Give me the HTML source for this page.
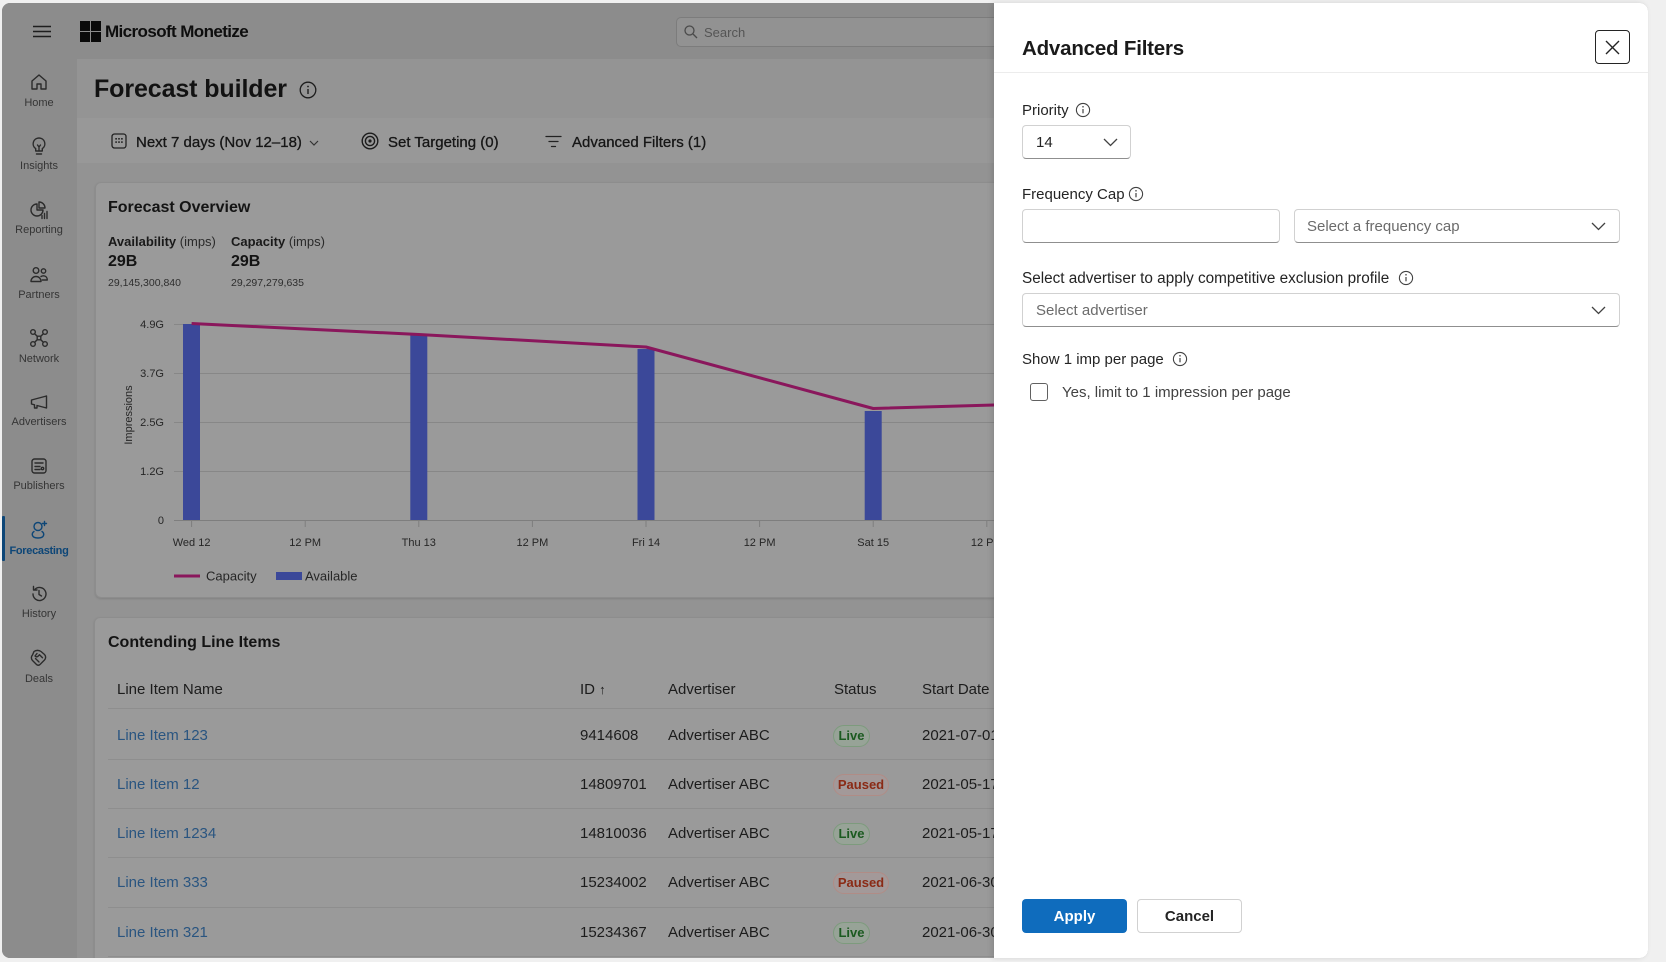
<!DOCTYPE html>
<html><head><meta charset="utf-8">
<style>
*{margin:0;padding:0;box-sizing:border-box}
body{width:1666px;height:962px;background:#f0f0f0;font-family:"Liberation Sans",Arial,sans-serif;overflow:hidden}
#root{position:relative;width:1666px;height:962px;overflow:hidden;background:#f0f0f0}
.a{position:absolute;white-space:nowrap}
.win{position:absolute;left:2px;top:3px;width:1646px;height:955px;border-radius:8px;overflow:hidden;background:#939393}
.sl{position:absolute;left:0;width:78px;text-align:center;font-size:11px;color:#353535;line-height:14px}
.ic{position:absolute;left:29px;width:20px;height:20px}
.ic *{fill:none;stroke:#2b2b2b;stroke-width:1.4;stroke-linecap:round;stroke-linejoin:round}
.th{font-size:15px;color:#1c1c1c;line-height:20px}
.td{font-size:15px;color:#1c1c1c;line-height:20px}
.lk{font-size:15px;color:#2a5580;line-height:20px}
.sep{position:absolute;left:108px;width:886px;height:1px;background:#8e8e8e}
.live{position:absolute;left:833px;width:37px;height:22px;border-radius:11px;border:1px solid #7d9b7d;background:#97a397;color:#1b5a20;font-size:13px;font-weight:bold;text-align:center;line-height:20px}
.paused{position:absolute;left:833px;width:56px;height:22px;border-radius:11px;border:1px solid #b08c86;background:#a39999;color:#8a2a15;font-size:13px;font-weight:bold;text-align:center;line-height:20px}
.pl{font-size:15px;color:#242424;line-height:20px}
.box{position:absolute;background:#fff;border:1px solid #d1d1d1;border-bottom:1px solid #8f8f8f;border-radius:4px}
.info{position:absolute;width:16px;height:16px}
</style></head><body><div id="root">
<div class="win">
  <div class="a" style="left:0;top:0;width:1000px;height:56px;background:#8c8c8c"></div>
  <div class="a" style="left:0;top:56px;width:75px;height:899px;background:#8c8c8c"></div>
  <div class="a" style="left:75px;top:56px;width:920px;height:59px;background:#949494"></div>
  <div class="a" style="left:75px;top:115px;width:920px;height:45px;background:#989898"></div>
  <div class="a" style="left:93px;top:179px;width:960px;height:416px;background:#9a9a9a;border:1px solid #8d8d8d;border-radius:6px;box-shadow:0 1px 2px rgba(0,0,0,.12)"></div>
  <div class="a" style="left:92px;top:614px;width:960px;height:345px;background:#9a9a9a;border:1px solid #8d8d8d;border-radius:6px 6px 0 0;box-shadow:0 1px 2px rgba(0,0,0,.12)"></div>
</div>

<svg class="a" style="left:33px;top:25px" width="18" height="13"><path d="M0 1.5h18M0 6.5h18M0 11.5h18" stroke="#1e1e1e" stroke-width="1.5"/></svg>
<svg class="a" style="left:80px;top:21px" width="21" height="21"><rect x="0" y="0" width="10" height="10" fill="#0a0a0a"/><rect x="11" y="0" width="10" height="10" fill="#0a0a0a"/><rect x="0" y="11" width="10" height="10" fill="#0a0a0a"/><rect x="11" y="11" width="10" height="10" fill="#0a0a0a"/></svg>
<div class="a" style="left:105px;top:22px;font-size:17px;font-weight:bold;letter-spacing:-0.6px;color:#0e0e0e;line-height:20px">Microsoft Monetize</div>
<div class="a" style="left:676px;top:17px;width:318px;height:30px;border:1px solid #7c7c7c;border-right:none;border-radius:5px 0 0 5px;background:#929292"></div>
<svg class="a" style="left:684px;top:25px" width="14" height="14"><circle cx="5.5" cy="5.5" r="4.5" fill="none" stroke="#4a4a4a" stroke-width="1.3"/><path d="M9 9l4 4" stroke="#4a4a4a" stroke-width="1.3"/></svg>
<div class="a" style="left:704px;top:24px;font-size:13px;color:#555;line-height:18px">Search</div>

<svg class="ic" style="top:72px" viewBox="0 0 20 20"><path d="M3 9L10 3l7 6v8h-5v-5H8v5H3z"/></svg>
<div class="sl" style="top:96px">Home</div>
<svg class="ic" style="top:136px" viewBox="0 0 20 20"><path d="M10 2a5.8 5.8 0 0 0-3.3 10.6V15h6.6v-2.4A5.8 5.8 0 0 0 10 2z"/><path d="M7.5 18h5M8.5 9l1.5 2 1.5-2M10 11v4"/></svg>
<div class="sl" style="top:159px">Insights</div>
<svg class="ic" style="top:200px" viewBox="0 0 20 20"><path d="M8 4a6 6 0 1 0 6 6H8z"/><path d="M10 2a6 6 0 0 1 6 6h-6z"/><path d="M13 18.5v-3M15.5 18.5v-5M18 18.5v-7" stroke-width="1.8"/></svg>
<div class="sl" style="top:223px">Reporting</div>
<svg class="ic" style="top:265px" viewBox="0 0 20 20"><circle cx="7" cy="5.5" r="2.8"/><circle cx="14.5" cy="6" r="2.2"/><path d="M2 16.5c0-3 2.3-5 5-5s5 2 5 5z"/><path d="M12 11.5c.8-.5 1.6-.7 2.5-.7 2.2 0 3.8 1.6 3.8 4.2h-5"/></svg>
<div class="sl" style="top:288px">Partners</div>
<svg class="ic" style="top:328px" viewBox="0 0 20 20"><circle cx="4" cy="4" r="2.3"/><circle cx="16" cy="4" r="2.3"/><circle cx="4" cy="16" r="2.3"/><circle cx="16" cy="16" r="2.3"/><rect x="8.2" y="8.2" width="3.6" height="3.6"/><path d="M5.7 5.7l2.5 2.5M14.3 5.7l-2.5 2.5M5.7 14.3l2.5-2.5M14.3 14.3l-2.5-2.5"/></svg>
<div class="sl" style="top:352px">Network</div>
<svg class="ic" style="top:392px" viewBox="0 0 20 20"><path d="M2.5 8v4l3 .8V16h2.5v-2.5L17.5 16V4L2.5 8z"/></svg>
<div class="sl" style="top:415px">Advertisers</div>
<svg class="ic" style="top:456px" viewBox="0 0 20 20"><rect x="3" y="3" width="14" height="14" rx="2.5"/><path d="M6 7h8M6 10.5h5M6 13.5h5"/><circle cx="13.5" cy="12.5" r="1.2"/></svg>
<div class="sl" style="top:479px">Publishers</div>
<div class="a" style="left:2px;top:516px;width:3px;height:45px;background:#0d4677;border-radius:1px"></div>
<svg class="ic" style="top:520px" viewBox="0 0 20 20"><circle cx="9" cy="6.5" r="4" style="stroke:#0d4677"/><path d="M5 11.5c-1.5 1-2 2.5-1.5 4 .5 1.5 2.5 2.5 5.5 2.5s5-1 5.5-2.5c.5-1.5 0-3-1.5-4" style="stroke:#0d4677"/><path d="M15.5 1.5v4M13.5 3.5h4" style="stroke:#0d4677"/></svg>
<div class="sl" style="top:544px;color:#0d4677;font-weight:bold;letter-spacing:-0.3px">Forecasting</div>
<svg class="ic" style="top:584px" viewBox="0 0 20 20"><path d="M4 10a6.5 6.5 0 1 0 2-4.7"/><path d="M4.5 2.5v3.5h3.5"/><path d="M10 6.5v4l2.5 1.5"/></svg>
<div class="sl" style="top:607px">History</div>
<svg class="ic" style="top:648px" viewBox="0 0 20 20"><path d="M5 3.5c2-1.5 5-1.5 7 0l3.5 3c1.5 1.5 1.5 4 0 5.5L11 16.5c-1 1-2.5 1-3.5 0L3.5 12.5C2 11 2 8.5 3.5 7z"/><path d="M8 5.5L6 8c1 1 2.3 1 3.3 0l1.2-1.3 3 3M8.5 12.5l1.5 1.5M6.5 10.5l1.5 1.5"/></svg>
<div class="sl" style="top:672px">Deals</div>

<div class="a" style="left:94px;top:74px;font-size:25px;font-weight:bold;color:#121212;line-height:30px;letter-spacing:-0.1px">Forecast builder</div>
<svg class="a" style="left:299px;top:81px" width="18" height="18"><circle cx="9" cy="9" r="7.8" fill="none" stroke="#1e1e1e" stroke-width="1.3"/><path d="M9 8v5" stroke="#1e1e1e" stroke-width="1.4"/><circle cx="9" cy="5.5" r="0.9" fill="#1e1e1e"/></svg>

<svg class="a" style="left:111px;top:133px" width="16" height="16"><rect x="1" y="1" width="14" height="14" rx="2.5" fill="none" stroke="#222" stroke-width="1.3"/><g fill="#222"><rect x="4.3" y="5" width="1.6" height="1.6"/><rect x="7.2" y="5" width="1.6" height="1.6"/><rect x="10.1" y="5" width="1.6" height="1.6"/><rect x="4.3" y="8.3" width="1.6" height="1.6"/><rect x="7.2" y="8.3" width="1.6" height="1.6"/><rect x="10.1" y="8.3" width="1.6" height="1.6"/></g></svg>
<div class="a" style="left:136px;top:133px;font-size:15px;color:#161616;line-height:20px;-webkit-text-stroke:0.3px #161616">Next 7 days (Nov 12–18)</div>
<svg class="a" style="left:309px;top:140px" width="10" height="6"><path d="M1 1l4 4 4-4" fill="none" stroke="#333" stroke-width="1.2"/></svg>
<svg class="a" style="left:361px;top:132px" width="18" height="18"><circle cx="9" cy="9" r="7.8" fill="none" stroke="#1c1c1c" stroke-width="1.4"/><circle cx="9" cy="9" r="4.6" fill="none" stroke="#1c1c1c" stroke-width="1.4"/><circle cx="9" cy="9" r="1.6" fill="#1c1c1c"/></svg>
<div class="a" style="left:388px;top:133px;font-size:15px;color:#161616;line-height:20px;-webkit-text-stroke:0.3px #161616">Set Targeting (0)</div>
<svg class="a" style="left:545px;top:135px" width="17" height="13"><path d="M1 1.5h15M4 6.5h9M6.5 11.5h4" stroke="#222" stroke-width="1.3" stroke-linecap="round"/></svg>
<div class="a" style="left:572px;top:133px;font-size:15px;color:#161616;line-height:20px;-webkit-text-stroke:0.3px #161616">Advanced Filters (1)</div>

<div class="a" style="left:108px;top:198px;font-size:16px;font-weight:bold;color:#141414;line-height:20px">Forecast Overview</div>
<div class="a" style="left:108px;top:234px;font-size:13px;color:#1a1a1a;line-height:16px"><b>Availability</b> <span style="color:#2a2a2a">(imps)</span></div>
<div class="a" style="left:108px;top:253px;font-size:16px;font-weight:bold;color:#141414;line-height:18px">29B</div>
<div class="a" style="left:108px;top:276px;font-size:10.5px;color:#2e2e2e;line-height:14px">29,145,300,840</div>
<div class="a" style="left:231px;top:234px;font-size:13px;color:#1a1a1a;line-height:16px"><b>Capacity</b> <span style="color:#2a2a2a">(imps)</span></div>
<div class="a" style="left:231px;top:253px;font-size:16px;font-weight:bold;color:#141414;line-height:18px">29B</div>
<div class="a" style="left:231px;top:276px;font-size:10.5px;color:#2e2e2e;line-height:14px">29,297,279,635</div>

<svg class="a" style="left:0;top:0" width="994" height="962" font-family="Liberation Sans, Arial, sans-serif">
  <g stroke="#878787" stroke-width="1">
    <line x1="174" y1="324.5" x2="994" y2="324.5"/>
    <line x1="174" y1="373.5" x2="994" y2="373.5"/>
    <line x1="174" y1="422.5" x2="994" y2="422.5"/>
    <line x1="174" y1="471.5" x2="994" y2="471.5"/>
  </g>
  <line x1="174" y1="520.5" x2="994" y2="520.5" stroke="#7e7e7e"/>
  <g stroke="#7e7e7e">
    <line x1="191.6" y1="520" x2="191.6" y2="527"/>
    <line x1="305.2" y1="520" x2="305.2" y2="527"/>
    <line x1="418.8" y1="520" x2="418.8" y2="527"/>
    <line x1="532.4" y1="520" x2="532.4" y2="527"/>
    <line x1="646" y1="520" x2="646" y2="527"/>
    <line x1="759.6" y1="520" x2="759.6" y2="527"/>
    <line x1="873.2" y1="520" x2="873.2" y2="527"/>
    <line x1="986.8" y1="520" x2="986.8" y2="527"/>
  </g>
  <g font-size="11" fill="#262626" text-anchor="end">
    <text x="164" y="328">4.9G</text>
    <text x="164" y="377">3.7G</text>
    <text x="164" y="426">2.5G</text>
    <text x="164" y="475">1.2G</text>
    <text x="164" y="524">0</text>
  </g>
  <text x="0" y="0" font-size="11" fill="#262626" text-anchor="middle" transform="translate(132 415) rotate(-90)">Impressions</text>
  <g font-size="11" fill="#262626" text-anchor="middle">
    <text x="191.6" y="546">Wed 12</text>
    <text x="305.2" y="546">12 PM</text>
    <text x="418.8" y="546">Thu 13</text>
    <text x="532.4" y="546">12 PM</text>
    <text x="646" y="546">Fri 14</text>
    <text x="759.6" y="546">12 PM</text>
    <text x="873.2" y="546">Sat 15</text>
    <text x="986.8" y="546">12 PM</text>
  </g>
  <g fill="#3b4899">
    <rect x="183" y="324" width="17" height="196"/>
    <rect x="410.3" y="335" width="17" height="185"/>
    <rect x="637.5" y="349" width="17" height="171"/>
    <rect x="864.7" y="411" width="17" height="109"/>
  </g>
  <polyline points="191.6,323.5 418.8,334.5 646,347 873.2,408.5 1100,402" fill="none" stroke="#8a175c" stroke-width="3" stroke-linejoin="round"/>
  <line x1="174" y1="576" x2="200" y2="576" stroke="#8a175c" stroke-width="3"/>
  <text x="206" y="580.5" font-size="13" fill="#262626">Capacity</text>
  <rect x="276" y="572" width="26" height="8" fill="#3b4899"/>
  <text x="305" y="580.5" font-size="13" fill="#262626">Available</text>
</svg>

<div class="a" style="left:108px;top:633px;font-size:16px;font-weight:bold;color:#141414;line-height:20px">Contending Line Items</div>
<div class="a th" style="left:117px;top:680px">Line Item Name</div>
<div class="a th" style="left:580px;top:680px">ID <span style="font-size:13px">↑</span></div>
<div class="a th" style="left:668px;top:680px">Advertiser</div>
<div class="a th" style="left:834px;top:680px">Status</div>
<div class="a th" style="left:922px;top:680px">Start Date</div>
<div class="sep" style="top:708px"></div>
<div class="sep" style="top:759px"></div>
<div class="sep" style="top:808px"></div>
<div class="sep" style="top:857px"></div>
<div class="sep" style="top:907px"></div>
<div class="sep" style="top:956px"></div>

<div class="a lk" style="left:117px;top:726px">Line Item 123</div>
<div class="a td" style="left:580px;top:726px">9414608</div>
<div class="a td" style="left:668px;top:726px">Advertiser ABC</div>
<div class="live" style="top:725px">Live</div>
<div class="a td" style="left:922px;top:726px">2021-07-01</div>

<div class="a lk" style="left:117px;top:775px">Line Item 12</div>
<div class="a td" style="left:580px;top:775px">14809701</div>
<div class="a td" style="left:668px;top:775px">Advertiser ABC</div>
<div class="paused" style="top:774px">Paused</div>
<div class="a td" style="left:922px;top:775px">2021-05-17</div>

<div class="a lk" style="left:117px;top:824px">Line Item 1234</div>
<div class="a td" style="left:580px;top:824px">14810036</div>
<div class="a td" style="left:668px;top:824px">Advertiser ABC</div>
<div class="live" style="top:823px">Live</div>
<div class="a td" style="left:922px;top:824px">2021-05-17</div>

<div class="a lk" style="left:117px;top:873px">Line Item 333</div>
<div class="a td" style="left:580px;top:873px">15234002</div>
<div class="a td" style="left:668px;top:873px">Advertiser ABC</div>
<div class="paused" style="top:872px">Paused</div>
<div class="a td" style="left:922px;top:873px">2021-06-30</div>

<div class="a lk" style="left:117px;top:923px">Line Item 321</div>
<div class="a td" style="left:580px;top:923px">15234367</div>
<div class="a td" style="left:668px;top:923px">Advertiser ABC</div>
<div class="live" style="top:922px">Live</div>
<div class="a td" style="left:922px;top:923px">2021-06-30</div>

<div class="a" style="left:0;top:958px;width:1666px;height:4px;background:#f0f0f0"></div>

<div class="a" style="left:994px;top:3px;width:654px;height:955px;background:#fff;border-radius:0 8px 8px 0;box-shadow:-2px 0 6px rgba(0,0,0,.12)"></div>
<div class="a" style="left:994px;top:72px;width:654px;height:1px;background:#ececec"></div>
<div class="a" style="left:1022px;top:37px;font-size:20.5px;font-weight:bold;color:#1a1a1a;line-height:24px;letter-spacing:-0.2px">Advanced Filters</div>
<div class="a" style="left:1595px;top:30px;width:35px;height:34px;border:1.6px solid #242424;border-radius:4px"></div>
<svg class="a" style="left:1605px;top:40px" width="15" height="15"><path d="M1 1l13 13M14 1L1 14" stroke="#242424" stroke-width="1.4"/></svg>

<div class="a pl" style="left:1022px;top:101px">Priority</div>
<svg class="info" style="left:1075px;top:102px" viewBox="0 0 16 16"><circle cx="8" cy="8" r="6.6" fill="none" stroke="#424242" stroke-width="1.1"/><path d="M8 7v4.3" stroke="#424242" stroke-width="1.2"/><circle cx="8" cy="4.8" r="0.8" fill="#424242"/></svg>
<div class="box" style="left:1022px;top:125px;width:109px;height:34px"></div>
<div class="a pl" style="left:1036px;top:133px">14</div>
<svg class="a" style="left:1103px;top:138px" width="15" height="9"><path d="M1 1l6.5 6.5L14 1" fill="none" stroke="#424242" stroke-width="1.3"/></svg>

<div class="a pl" style="left:1022px;top:185px">Frequency Cap</div>
<svg class="info" style="left:1128px;top:186px" viewBox="0 0 16 16"><circle cx="8" cy="8" r="6.6" fill="none" stroke="#424242" stroke-width="1.1"/><path d="M8 7v4.3" stroke="#424242" stroke-width="1.2"/><circle cx="8" cy="4.8" r="0.8" fill="#424242"/></svg>
<div class="box" style="left:1022px;top:209px;width:258px;height:34px"></div>
<div class="box" style="left:1294px;top:209px;width:326px;height:34px"></div>
<div class="a pl" style="left:1307px;top:217px;color:#6b6b6b">Select a frequency cap</div>
<svg class="a" style="left:1591px;top:222px" width="15" height="9"><path d="M1 1l6.5 6.5L14 1" fill="none" stroke="#424242" stroke-width="1.3"/></svg>

<div class="a pl" style="left:1022px;top:269px;font-size:15.3px">Select advertiser to apply competitive exclusion profile</div>
<svg class="info" style="left:1398px;top:270px" viewBox="0 0 16 16"><circle cx="8" cy="8" r="6.6" fill="none" stroke="#424242" stroke-width="1.1"/><path d="M8 7v4.3" stroke="#424242" stroke-width="1.2"/><circle cx="8" cy="4.8" r="0.8" fill="#424242"/></svg>
<div class="box" style="left:1022px;top:293px;width:598px;height:34px"></div>
<div class="a pl" style="left:1036px;top:301px;color:#6b6b6b">Select advertiser</div>
<svg class="a" style="left:1591px;top:306px" width="15" height="9"><path d="M1 1l6.5 6.5L14 1" fill="none" stroke="#424242" stroke-width="1.3"/></svg>

<div class="a pl" style="left:1022px;top:350px">Show 1 imp per page</div>
<svg class="info" style="left:1172px;top:351px" viewBox="0 0 16 16"><circle cx="8" cy="8" r="6.6" fill="none" stroke="#424242" stroke-width="1.1"/><path d="M8 7v4.3" stroke="#424242" stroke-width="1.2"/><circle cx="8" cy="4.8" r="0.8" fill="#424242"/></svg>
<div class="a" style="left:1030px;top:383px;width:18px;height:18px;border:1px solid #616161;border-radius:3px;background:#fff"></div>
<div class="a pl" style="left:1062px;top:383px;color:#424242">Yes, limit to 1 impression per page</div>

<div class="a" style="left:1022px;top:899px;width:105px;height:34px;background:#0f6cbd;border-radius:4px;color:#fff;font-size:15px;font-weight:bold;text-align:center;line-height:36px">Apply</div>
<div class="a" style="left:1137px;top:899px;width:105px;height:34px;background:#fff;border:1px solid #d1d1d1;border-radius:4px;color:#242424;font-size:15px;font-weight:bold;text-align:center;line-height:34px">Cancel</div>

</div></body></html>
